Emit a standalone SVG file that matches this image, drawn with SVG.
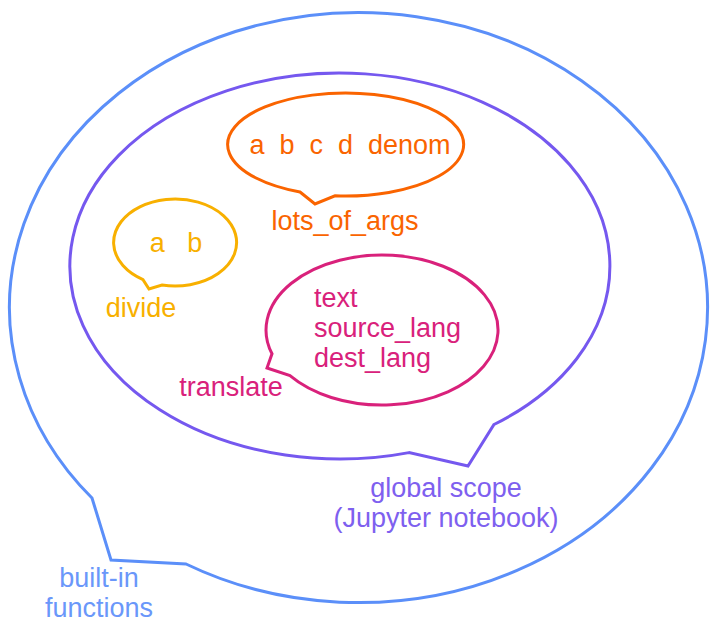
<svg xmlns="http://www.w3.org/2000/svg" width="718" height="643" viewBox="0 0 718 643">
<style>
text{font-family:"Liberation Sans",Arial,sans-serif;font-size:27px}
.b{fill:none;stroke-width:3;stroke-linejoin:miter}
</style>
<rect width="718" height="643" fill="#fff"/>
<g id="builtin">
<path class="b" stroke="#5b8ff9" d="M186,564 A349,295 0 1 0 92,498 L111,560 Z"/>
<text x="99" y="587" fill="#6a97fa" text-anchor="middle">built-in</text>
<text x="99" y="617" fill="#6a97fa" text-anchor="middle">functions</text>
</g>
<g id="global">
<path class="b" stroke="#7558ef" d="M494,424.5 A270,193 0 1 0 409,452.6 L468,466 Z"/>
<text x="446" y="497" fill="#7e60ef" text-anchor="middle">global scope</text>
<text x="446" y="527" fill="#7e60ef" text-anchor="middle">(Jupyter notebook)</text>
</g>
<g id="lots_of_args">
<path class="b" stroke="#fa6400" d="M335,195.8 A118,51.5 0 1 0 300,192 L315,204 Z"/>
<text x="350" y="154" fill="#fa6400" text-anchor="middle" xml:space="preserve">a  b  c  d  denom</text>
<text x="345" y="230" fill="#fa6400" text-anchor="middle">lots_of_args</text>
</g>
<g id="divide">
<path class="b" stroke="#f8b000" d="M162,285 A61.5,43.5 0 1 0 143,279.6 L149,289 Z"/>
<text x="176" y="252" fill="#f8b000" text-anchor="middle" xml:space="preserve">a   b</text>
<text x="141" y="317" fill="#f8b000" text-anchor="middle">divide</text>
</g>
<g id="translate">
<path class="b" stroke="#d9217b" d="M290,375.7 A116,75 0 1 0 272,353.8 L267,368 Z"/>
<text x="314" y="307" fill="#d9217b">text</text>
<text x="314" y="337" fill="#d9217b">source_lang</text>
<text x="314" y="367" fill="#d9217b">dest_lang</text>
<text x="231" y="396" fill="#d9217b" text-anchor="middle">translate</text>
</g>
<g id="connectors"></g>
</svg>
